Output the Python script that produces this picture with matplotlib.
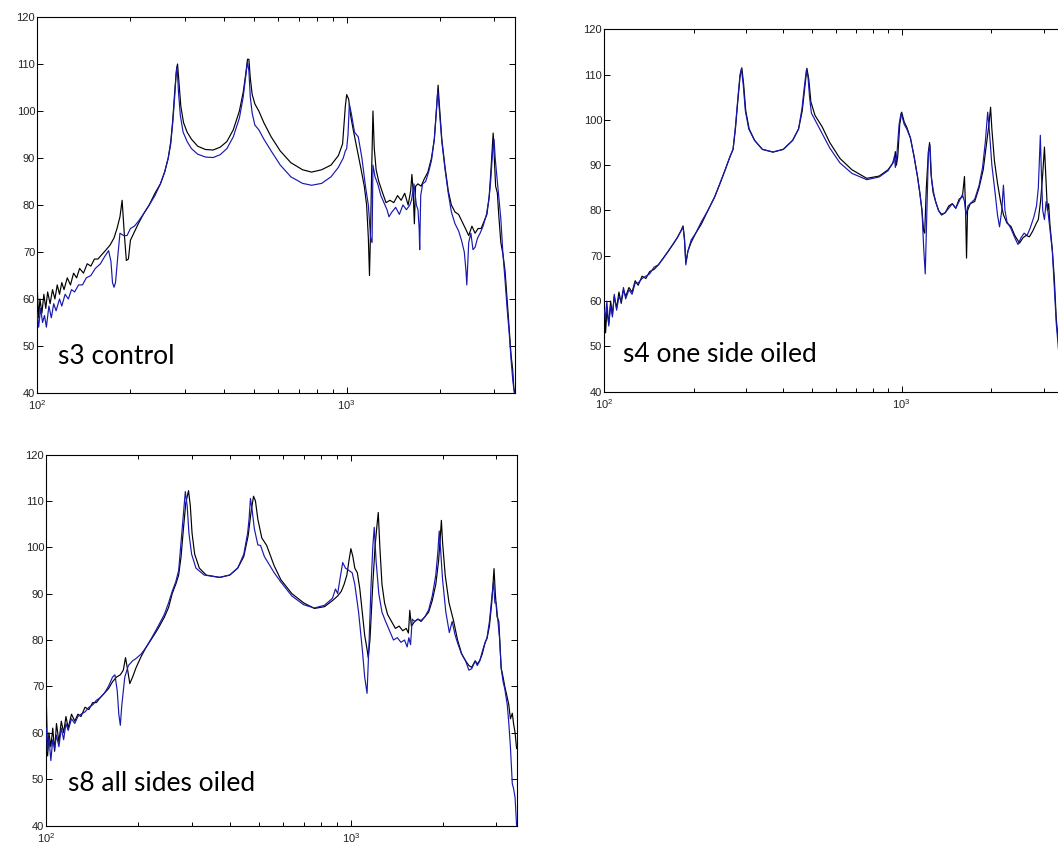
import matplotlib
matplotlib.use("Agg")
import matplotlib.pyplot as plt
from matplotlib.ticker import LogLocator, NullFormatter, FixedLocator

plt.rcParams['font.family'] = ['Liberation Sans', 'DejaVu Sans']

# ---------------- data (frequency in Hz, level in dB) ----------------
p1_black_f = [100, 101, 102, 103.5, 105, 106.5, 108, 110, 112, 114, 116, 118, 120, 122, 125, 128, 131, 134, 137, 141, 145, 149, 153, 157, 162, 167, 172, 177, 181, 185, 188, 191, 194, 197, 200, 205, 212, 220, 230, 240, 250, 258, 265, 270, 274, 278, 282, 284, 287, 291, 297, 305, 315, 330, 350, 370, 390, 410, 430, 450, 463, 472, 478, 483, 488, 495, 505, 520, 540, 570, 610, 660, 720, 770, 830, 890, 940, 970, 990, 1000, 1015, 1030, 1050, 1080, 1110, 1140, 1160, 1175, 1185, 1195, 1205, 1216, 1228, 1245, 1270, 1300, 1340, 1380, 1420, 1460, 1500, 1540, 1580, 1610, 1625, 1640, 1655, 1670, 1700, 1740, 1780, 1830, 1880, 1920, 1950, 1975, 1995, 2030, 2080, 2130, 2180, 2240, 2300, 2360, 2420, 2480, 2540, 2600, 2660, 2720, 2780, 2840, 2890, 2930, 2975, 3000, 3030, 3070, 3100, 3150, 3200, 3250, 3300, 3350, 3400, 3440, 3470, 3500]
p1_black_db = [62, 56, 60, 57, 61, 58, 61.5, 59, 62, 60, 63, 61, 63.5, 62, 64.5, 63, 65.5, 64.5, 66.5, 65.5, 67.5, 67, 68.5, 68.5, 69.5, 70.5, 71.5, 73, 75, 77.5, 81, 74, 68.2, 68.5, 72.5, 74, 76, 78, 80, 82.5, 84.5, 87, 90, 93.5, 98, 104, 109, 110, 106, 101, 97.5, 95.5, 94, 92.5, 91.8, 91.7, 92.3, 93.5, 96, 100, 104, 108, 111, 111, 107, 103.5, 101.5, 100, 97.5, 94.5, 91.5, 89, 87.5, 87, 87.5, 88.5, 90.5, 93, 101, 103.5, 102.5, 99, 96, 92, 88, 84, 80, 73, 65, 75, 88, 100, 92, 87.5, 85, 83, 80.5, 81, 80.5, 82, 81, 82.5, 80, 83, 86.5, 83, 76, 84, 84.5, 84, 85.5, 87, 90, 94, 100, 105.5, 101, 94, 88, 83, 80, 78.5, 78, 76.5, 75, 73.5, 75.5, 74, 75, 75, 76.5, 78, 82, 88, 95.3, 90, 84, 82.5, 78, 72, 69.5, 66, 60, 54, 48, 45, 41, 40]

p1_blue_f = [100, 101, 102.5, 104, 105.5, 107, 109, 111, 113, 115, 118, 120, 123, 126, 129, 132, 136, 140, 144, 149, 154, 160, 165, 170, 173, 175, 177, 179, 182, 185, 190, 195, 200, 206, 212, 220, 230, 240, 250, 258, 265, 270, 274, 278, 281, 283, 286, 290, 296, 305, 315, 330, 350, 370, 390, 410, 430, 450, 463, 472, 478, 483, 488, 495, 505, 520, 540, 570, 610, 660, 720, 770, 830, 890, 940, 975, 990, 1000, 1010, 1020, 1035, 1060, 1090, 1120, 1150, 1175, 1195, 1208, 1216, 1235, 1260, 1290, 1320, 1350, 1370, 1400, 1440, 1480, 1520, 1560, 1600, 1620, 1650, 1680, 1700, 1715, 1722, 1735, 1760, 1800, 1840, 1880, 1920, 1950, 1970, 1995, 2030, 2080, 2130, 2180, 2240, 2300, 2350, 2400, 2430, 2445, 2460, 2480, 2520, 2560, 2600, 2650, 2700, 2760, 2830, 2880, 2920, 2960, 2995, 3020, 3060, 3100, 3150, 3200, 3250, 3300, 3350, 3400, 3440, 3480]
p1_blue_db = [57, 54, 58, 55, 56.5, 54, 58.5, 56, 59, 57.5, 60, 58.5, 61, 60, 62, 61.5, 63, 63, 64.5, 65, 66.5, 67.5, 69, 70.3, 68, 63.5, 62.5, 63.5, 69, 74, 73.5, 73.5, 75, 75.5, 76.5, 78, 80, 82, 84.5, 87, 90, 93, 97.5, 103, 108, 109.5, 104, 99, 95.5, 93.5, 92, 90.8, 90.2, 90.1, 90.7, 92, 94.5, 98.5, 103, 107.5, 110.5, 108.5, 103, 99.5, 97, 96, 94, 91.5, 88.5, 86, 84.6, 84.2, 84.6, 86, 88, 90, 91.5, 92, 95, 101.5, 99.5, 95.5, 94.5, 90, 84, 80, 73, 72, 88.5, 86, 84.5, 82, 80.5, 79, 77.5, 78.5, 79.5, 78, 80, 79, 80, 81, 84.5, 80, 79, 75, 70.5, 82, 84.5, 85, 87, 89.5, 94, 100.5, 104.5, 100, 93.5, 87.5, 82.5, 78.5, 76, 74.5, 72.5, 70, 66, 63, 67, 72, 74, 70.5, 71, 73, 74, 75.5, 78, 81, 85, 91, 94, 90, 86, 82, 77, 69.5, 64, 58, 53, 47, 43, 40]

p2_black_f = [100, 101, 102, 103.5, 105, 106.5, 108, 110, 112, 114, 116, 118, 121, 124, 127, 130, 134, 138, 142, 147, 152, 158, 164, 170, 176, 181, 184, 186, 188, 191, 196, 203, 212, 223, 235, 245, 255, 265, 271, 276, 281, 286, 290, 294, 299, 307, 320, 340, 369, 400, 430, 450, 463, 472, 480, 487, 495, 511, 540, 573, 620, 680, 763, 840, 900, 934, 945, 952, 960, 970, 985, 1000, 1020, 1040, 1070, 1100, 1130, 1150, 1170, 1185, 1195, 1210, 1230, 1241, 1255, 1275, 1300, 1330, 1361, 1400, 1440, 1480, 1520, 1560, 1600, 1626, 1640, 1652, 1665, 1700, 1760, 1820, 1880, 1930, 1965, 1990, 2010, 2050, 2100, 2150, 2200, 2260, 2330, 2400, 2490, 2560, 2620, 2689, 2760, 2837, 2880, 2930, 2980, 3020, 3050, 3090, 3120, 3150, 3210, 3260, 3310, 3400, 3500]
p2_black_db = [60, 53, 58, 55, 60, 57, 61, 58.5, 62, 59.5, 62.5, 61, 63, 62, 64.5, 63.5, 65.5, 65, 66.5, 67, 68, 69.5, 71, 72.5, 74, 75.5, 76.6, 74, 68.5, 71, 73, 75, 77, 80, 83, 86, 89, 92, 93.5, 98, 104, 109.5, 111.5, 108, 102, 98, 95.5, 93.5, 92.9, 93.5, 95.5, 98, 102, 107, 111.4, 109, 104, 101, 98.5, 95, 91.5, 89, 87.1, 87.6, 89, 90.5, 91.5, 93, 90, 92, 99, 101.7, 99.5, 98.4, 96, 92, 87.5, 84, 80, 75.5, 75, 85, 93, 95, 88, 84, 82, 80, 79, 79.5, 81, 81.5, 80.5, 82.5, 83, 87.5, 80, 69.5, 80, 81.5, 82, 85, 89, 95, 99, 102.8, 98, 91, 86, 82, 79, 77.2, 76.5, 74.5, 72.8, 74, 74.5, 74.2, 75.5, 77.2, 78, 82, 88, 94, 88, 80, 81.5, 77, 71.3, 65, 56, 48, 40]

p2_blue_f = [100, 101, 102, 103.5, 105, 106.5, 108, 110, 112, 114, 116, 118, 121, 124, 127, 130, 134, 138, 142, 147, 152, 158, 164, 170, 176, 181, 184, 186, 188, 191, 196, 203, 212, 223, 235, 245, 255, 265, 271, 276, 281, 286, 289, 293, 298, 306, 320, 340, 369, 400, 430, 450, 462, 471, 478, 484, 490, 497, 511, 540, 573, 620, 680, 763, 840, 900, 934, 945, 952, 965, 980, 995, 1020, 1040, 1070, 1100, 1130, 1150, 1170, 1185, 1200, 1215, 1230, 1245, 1260, 1280, 1300, 1330, 1361, 1400, 1440, 1480, 1520, 1560, 1600, 1626, 1645, 1670, 1700, 1760, 1820, 1870, 1910, 1946, 1975, 2010, 2060, 2100, 2133, 2170, 2198, 2225, 2260, 2330, 2400, 2460, 2520, 2580, 2640, 2700, 2780, 2840, 2880, 2925, 2950, 2980, 3020, 3060, 3100, 3150, 3210, 3260, 3310, 3400, 3500]
p2_blue_db = [58, 56, 60, 54.5, 59, 56.5, 61.5, 58, 61, 60, 63, 60.5, 62.5, 61.5, 64, 64, 65, 65.5, 66, 67.5, 68, 69.5, 71, 72.5, 74, 75.5, 76.3, 73.5, 68, 71, 73.5, 75, 77.5, 80, 83, 86, 89, 92, 93.5, 98.5, 104.5, 110, 111.3, 108, 102, 98, 95.5, 93.5, 92.9, 93.5, 95.5, 98, 102.5, 107.5, 111, 109.5, 105, 101.5, 100, 97, 93.8, 90.5, 88.2, 86.8, 87.4, 88.8, 90.5, 92, 89.5, 93, 99, 101.5, 99, 98, 96, 92, 87.5, 84, 80, 72, 66, 80, 93, 94.5, 87, 84, 82, 80, 79.2, 79.5, 80.5, 81.5, 80.5, 82, 83.5, 82, 79, 81, 81.5, 82.5, 85.5, 89.5, 95, 101.7, 97, 90, 84, 79, 76.4, 80, 85.6, 80, 77.5, 76, 74, 72.5, 74, 75, 74.5, 76, 78.5, 81, 85, 96.6, 88, 80, 78, 82, 80, 76, 71, 63, 55, 46, 40]

p3_black_f = [100, 101, 102, 103.5, 105, 106.5, 108, 110, 112, 114, 116, 118, 121, 124, 127, 130, 134, 138, 142, 146, 150, 155, 160, 165, 170, 175, 179, 182, 185, 188, 192, 197, 205, 213, 222, 233, 244, 252, 259, 266, 272, 277, 282, 287, 293, 297, 301, 307, 318, 335, 371, 400, 425, 445, 460, 470, 479, 486, 495, 510, 529, 560, 589, 640, 700, 759, 820, 870, 905, 930, 950, 970, 985, 1000, 1015, 1030, 1050, 1070, 1090, 1110, 1130, 1140, 1155, 1180, 1200, 1215, 1230, 1245, 1265, 1290, 1320, 1360, 1400, 1440, 1480, 1520, 1545, 1561, 1580, 1620, 1660, 1700, 1750, 1800, 1850, 1900, 1940, 1965, 1982, 2000, 2040, 2100, 2172, 2240, 2308, 2380, 2440, 2492, 2560, 2600, 2650, 2700, 2760, 2798, 2850, 2900, 2951, 2980, 3020, 3060, 3114, 3160, 3200, 3262, 3300, 3340, 3388, 3420, 3460, 3500]
p3_black_db = [67, 55, 60, 57, 61, 56, 62, 58, 62.5, 60, 63.5, 61, 64, 62.5, 64, 63.5, 65.5, 65, 66.5, 66.5, 67.5, 68.5, 69.5, 71, 72, 72.5, 73.5, 76.2, 73.5, 70.6, 72, 74, 76.5, 78.5, 80.3, 82.5, 84.9, 87, 90, 92, 94, 98, 104, 109.5, 112.2, 109, 103, 98.5, 95.5, 94, 93.5, 94, 95.5, 98, 102.5, 107.5, 111, 110, 106, 102, 100.4, 96, 93, 90, 88, 86.8, 87.2, 88.5, 89.5, 90.5, 92, 94, 97, 99.7, 98, 95.5, 94.5, 91, 86, 81, 78, 76.2, 80, 92, 100, 104, 107.5, 100, 92, 88, 85.5, 84, 82.5, 83, 82, 82.5, 81.5, 86.4, 83, 84, 84.5, 84, 85, 86, 88.5, 92, 97, 102, 105.8, 101, 94, 88, 84.2, 80, 77.1, 75.5, 74.5, 74.1, 75.5, 74.8, 75.6, 77, 79.5, 80.3, 83, 88, 95.4, 90, 85, 84, 74, 72, 70, 67.6, 66, 63, 64.2, 62, 60, 56.6]

p3_blue_f = [100, 101, 102, 103.5, 105, 106.5, 108, 110, 112, 114, 116, 118, 121, 124, 127, 130, 134, 138, 142, 146, 150, 155, 160, 165, 168, 171, 173, 175, 177, 181, 186, 192, 197, 205, 213, 222, 233, 244, 252, 259, 266, 272, 277, 281, 286, 290, 294, 300, 310, 330, 371, 400, 425, 445, 458, 463, 468, 474, 482, 495, 505, 520, 560, 589, 640, 700, 759, 820, 870, 890, 905, 920, 940, 960, 985, 1010, 1030, 1060, 1090, 1110, 1130, 1145, 1165, 1180, 1193, 1210, 1235, 1265, 1300, 1340, 1380, 1420, 1460, 1500, 1530, 1550, 1570, 1590, 1620, 1660, 1700, 1750, 1800, 1850, 1900, 1930, 1950, 1968, 2000, 2050, 2105, 2150, 2200, 2250, 2308, 2380, 2440, 2492, 2560, 2600, 2650, 2700, 2760, 2798, 2850, 2900, 2940, 2970, 3000, 3040, 3080, 3114, 3160, 3200, 3262, 3300, 3340, 3388, 3420, 3460, 3500]
p3_blue_db = [61, 56, 59, 54, 58.5, 56.5, 59.5, 57, 61, 58.5, 62, 60.5, 63, 62, 63.5, 64, 64.5, 65.5, 66, 67, 67.5, 68.5, 70, 72, 72.5, 69, 64, 61.6, 66, 72, 74.5, 75.5, 76, 77, 78.5, 80.5, 83, 85.5, 88, 90.5, 92.5, 95, 101, 106, 112, 109, 103, 98.5, 95.5, 94, 93.5, 94, 95.5, 98.5, 103, 106, 110.5, 108, 104, 100.5, 100.4, 98, 94.5, 92.5, 89.5, 87.6, 86.9, 87.5, 89, 91, 90, 93, 96.7, 95.5, 95, 94.5, 92, 86, 78, 72, 68.5, 78, 92, 100, 104.3, 97, 90, 86, 84, 82, 80, 80.5, 79.5, 80, 78.5, 80.5, 79, 84.5, 84, 84.5, 84.2, 85, 86.5, 89.5, 94, 99, 103.5, 100, 93, 86, 81.6, 84, 81, 79, 77, 75.5, 73.5, 73.8, 75.5, 74.5, 75.5, 77.5, 79.5, 80.5, 84, 89, 92.5, 88, 88, 84, 80, 74, 71, 69.5, 66, 62, 57, 49, 48, 46, 40]

panel_labels = ["s3 control", "s4 one side oiled", "s8 all sides oiled"]
y_ticks = [40, 50, 60, 70, 80, 90, 100, 110, 120]
x_major = [100, 1000]

# ---------------- figure ----------------
W, H = 1058, 848
fig = plt.figure(figsize=(W / 100, H / 100), dpi=100)
fig.patch.set_facecolor('white')

def px_rect(left, top, right, bottom):
    return [left / W, 1 - bottom / H, (right - left) / W, (bottom - top) / H]

rects = [px_rect(37.3, 17, 515, 393),
         px_rect(604.3, 29.3, 1063.5, 391.7),
         px_rect(46.3, 454.5, 516.6, 825.5)]
label_pos = [(0.044, 0.098), (0.041, 0.102), (0.047, 0.112)]

series = [(p1_black_f, p1_black_db, p1_blue_f, p1_blue_db),
          (p2_black_f, p2_black_db, p2_blue_f, p2_blue_db),
          (p3_black_f, p3_black_db, p3_blue_f, p3_blue_db)]

blue = '#1818b0'
for i, (rect, (bf, bd, uf, ud)) in enumerate(zip(rects, series)):
    ax = fig.add_axes(rect)
    ax.plot(bf, bd, color='black', lw=0.85, zorder=2)
    ax.plot(uf, ud, color=blue, lw=0.85, zorder=3)
    ax.set_xscale('log')
    ax.set_xlim(100, 3500)
    ax.set_ylim(40, 120)
    ax.set_yticks(y_ticks)
    ax.xaxis.set_major_locator(FixedLocator(x_major))
    ax.xaxis.set_minor_locator(LogLocator(base=10, subs=[2, 3, 4, 5, 6, 7, 8, 9], numticks=10))
    ax.xaxis.set_minor_formatter(NullFormatter())
    ax.tick_params(which='both', direction='in', top=True, right=True,
                   labelsize=8, colors='black', width=0.7)
    ax.tick_params(which='major', length=4.5)
    ax.tick_params(which='minor', length=3)
    ax.tick_params(axis='y', labelcolor='#222222', pad=1.5)
    ax.tick_params(axis='x', labelcolor='#222222', pad=4)
    for s in ax.spines.values():
        s.set_linewidth(0.8)
        s.set_color('black')
    ax.text(label_pos[i][0], label_pos[i][1], panel_labels[i], transform=ax.transAxes,
            fontsize=19, family=['Lato', 'DejaVu Sans'], va='center', ha='left', color='black')

fig.savefig('out.png', dpi=100, facecolor='white')
